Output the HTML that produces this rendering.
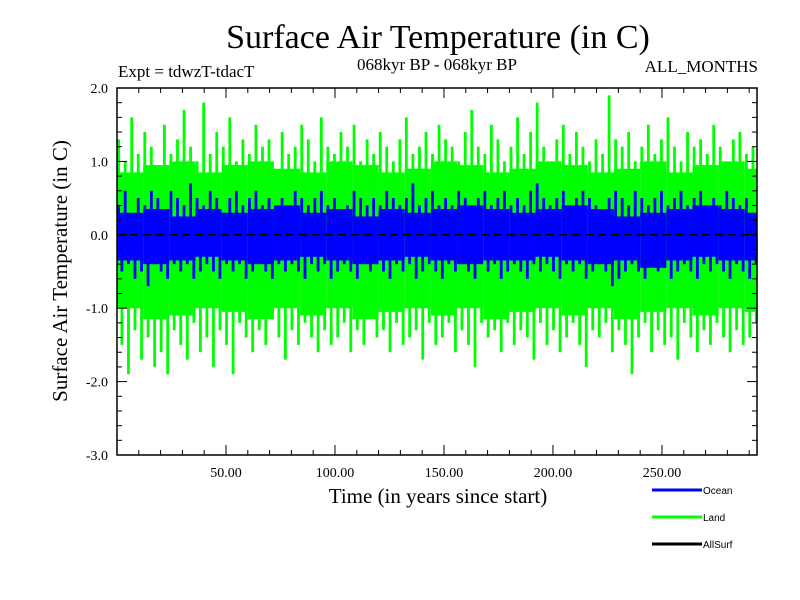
<!DOCTYPE html>
<html><head><meta charset="utf-8"><style>
body{margin:0;background:#fff}
svg{display:block}
.s{font-family:"Liberation Serif",serif}
.a{font-family:"Liberation Sans",sans-serif}
</style></head><body>
<svg id="c" width="800" height="600" xmlns="http://www.w3.org/2000/svg">
<text class="s" x="438" y="48" font-size="34" text-anchor="middle">Surface Air Temperature (in C)</text>
<text class="s" x="118" y="77" font-size="17">Expt = tdwzT-tdacT</text>
<text class="s" x="437" y="70" font-size="17" text-anchor="middle">068kyr BP - 068kyr BP</text>
<text class="s" x="758" y="72" font-size="17" text-anchor="end">ALL_MONTHS</text>
<text class="s" x="438" y="503" font-size="21" text-anchor="middle">Time (in years since start)</text>
<text class="s" transform="translate(67,271) rotate(-90)" font-size="21" text-anchor="middle">Surface Air Temperature (in C)</text>
<g id="plot"></g>
<g id="axes"></g>
<g>
<line x1="652" y1="490" x2="702" y2="490" stroke="#0000ff" stroke-width="3"/>
<text class="a" x="703" y="494" font-size="10">Ocean</text>
<line x1="652" y1="517" x2="702" y2="517" stroke="#00ff00" stroke-width="3"/>
<text class="a" x="703" y="521" font-size="10">Land</text>
<line x1="652" y1="544" x2="702" y2="544" stroke="#000" stroke-width="3"/>
<text class="a" x="703" y="548" font-size="10">AllSurf</text>
</g>
</svg>
<script>
const yearStep = 3;
const coreStep = 12;
const landMax = [1.3,1.0,1.6,1.1,1.4,1.2,0.9,1.5,1.1,1.3,1.7,1.2,1.0,1.8,1.1,1.4,1.2,1.6,1.0,1.3,1.1,1.5,1.2,1.3,0.9,1.4,1.1,1.2,1.5,1.3,1.0,1.6,1.2,1.1,1.4,1.2,1.5,1.0,1.3,1.1,1.4,1.2,1.0,1.3,1.6,1.1,1.2,1.4,1.1,1.5,1.3,1.2,1.0,1.4,1.7,1.2,1.1,1.5,1.3,1.0,1.2,1.6,1.1,1.4,1.8,1.2,1.0,1.3,1.5,1.1,1.4,1.2,1.0,1.3,1.1,1.9,1.3,1.2,1.4,1.0,1.2,1.5,1.1,1.3,1.6,1.2,1.0,1.4,1.2,1.3,1.1,1.5,1.2,1.0,1.3,1.4,1.1,1.2];
const landMin = [-1.5,-1.9,-1.3,-1.7,-1.4,-1.8,-1.6,-1.9,-1.3,-1.5,-1.7,-1.2,-1.6,-1.4,-1.8,-1.3,-1.5,-1.9,-1.2,-1.4,-1.6,-1.3,-1.5,-1.1,-1.4,-1.7,-1.3,-1.5,-1.2,-1.4,-1.6,-1.3,-1.5,-1.4,-1.2,-1.6,-1.3,-1.5,-1.1,-1.4,-1.3,-1.6,-1.2,-1.5,-1.4,-1.3,-1.7,-1.2,-1.5,-1.4,-1.2,-1.6,-1.3,-1.5,-1.8,-1.2,-1.4,-1.3,-1.6,-1.2,-1.5,-1.3,-1.4,-1.7,-1.2,-1.5,-1.3,-1.6,-1.4,-1.2,-1.5,-1.8,-1.3,-1.4,-1.2,-1.6,-1.3,-1.5,-1.9,-1.4,-1.2,-1.6,-1.3,-1.5,-1.4,-1.7,-1.2,-1.4,-1.6,-1.3,-1.5,-1.2,-1.4,-1.6,-1.3,-1.5,-1.4,-1.2];
const oceanMax = [0.4,0.6,0.3,0.5,0.4,0.6,0.5,0.3,0.6,0.5,0.4,0.7,0.5,0.4,0.6,0.5,0.3,0.5,0.6,0.4,0.5,0.6,0.4,0.5,0.3,0.5,0.4,0.6,0.5,0.4,0.5,0.6,0.4,0.5,0.3,0.4,0.6,0.5,0.4,0.5,0.4,0.6,0.5,0.4,0.5,0.7,0.4,0.5,0.6,0.4,0.5,0.4,0.6,0.5,0.4,0.5,0.6,0.4,0.5,0.6,0.4,0.5,0.4,0.6,0.7,0.5,0.4,0.5,0.6,0.4,0.5,0.6,0.5,0.4,0.3,0.5,0.6,0.5,0.4,0.6,0.5,0.4,0.5,0.6,0.4,0.5,0.6,0.4,0.5,0.6,0.4,0.5,0.4,0.6,0.5,0.4,0.5,0.3];
const oceanMin = [-0.5,-0.4,-0.6,-0.5,-0.7,-0.4,-0.5,-0.6,-0.4,-0.5,-0.4,-0.6,-0.5,-0.4,-0.5,-0.6,-0.4,-0.5,-0.4,-0.6,-0.5,-0.4,-0.5,-0.6,-0.4,-0.5,-0.4,-0.5,-0.6,-0.4,-0.5,-0.4,-0.6,-0.5,-0.4,-0.5,-0.6,-0.4,-0.5,-0.4,-0.5,-0.6,-0.4,-0.5,-0.4,-0.6,-0.5,-0.4,-0.5,-0.6,-0.4,-0.5,-0.4,-0.5,-0.6,-0.4,-0.5,-0.4,-0.6,-0.5,-0.4,-0.5,-0.6,-0.4,-0.5,-0.4,-0.5,-0.6,-0.4,-0.5,-0.4,-0.6,-0.5,-0.4,-0.5,-0.7,-0.6,-0.5,-0.4,-0.5,-0.6,-0.4,-0.5,-0.4,-0.6,-0.5,-0.4,-0.5,-0.6,-0.4,-0.5,-0.4,-0.5,-0.6,-0.4,-0.5,-0.6,-0.4];
const landCoreTop = [0.85,0.95,1.0,0.85,0.95,1.0,0.9,0.85,1.0,0.95,0.85,0.9,1.0,0.95,0.85,0.9,1.0,0.95,0.85,0.9,1.0,0.85,0.95,1.0,0.9];
const landCoreBot = [-1.0,-1.15,-1.1,-1.0,-1.05,-1.15,-1.0,-1.1,-1.0,-1.15,-1.05,-1.0,-1.1,-1.0,-1.15,-1.05,-1.0,-1.1,-1.0,-1.15,-1.05,-1.0,-1.1,-1.0,-1.05];
const oceanCoreTop = [0.3,0.35,0.25,0.35,0.3,0.35,0.4,0.3,0.35,0.25,0.35,0.3,0.35,0.4,0.35,0.3,0.35,0.4,0.35,0.25,0.3,0.35,0.4,0.35,0.3];
const oceanCoreBot = [-0.35,-0.4,-0.35,-0.3,-0.35,-0.4,-0.35,-0.3,-0.35,-0.4,-0.35,-0.3,-0.35,-0.4,-0.35,-0.35,-0.3,-0.35,-0.4,-0.35,-0.45,-0.35,-0.3,-0.35,-0.35];
const yTicks = [2.0,1.0,0.0,-1.0,-2.0,-3.0];
const xTicks = [50,100,150,200,250];

const X0=117,X1=757,Y0=88,Y1=455,YMAX=2,YMIN=-3,XMIN=0,XMAX=293.6;
const sx=v=>X0+(v-XMIN)/(XMAX-XMIN)*(X1-X0);
const sy=v=>Y0+(YMAX-v)/(YMAX-YMIN)*(Y1-Y0);
const NS="http://www.w3.org/2000/svg";
const plot=document.getElementById('plot'),axes=document.getElementById('axes');
function mk(tag,attrs,parent){const e=document.createElementNS(NS,tag);for(const k in attrs)e.setAttribute(k,attrs[k]);parent.appendChild(e);return e;}

function drawSeries(maxA,minA,topA,botA,color,name){
  const g=mk('g',{},plot);
  
  
  const m=Math.min(topA.length,botA.length);
  for(let i=0;i<m;i++){
    const xa=sx(i*coreStep), xb=Math.min(sx((i+1)*coreStep),X1);
    if(xb<=xa) continue;
    const r=mk('rect',{x:xa,y:sy(topA[i]),width:xb-xa,height:sy(botA[i])-sy(topA[i]),fill:color},g);
    
    
  }
  const n=Math.min(maxA.length,minA.length);
  for(let i=0;i<n;i++){
    const xu=sx(i*yearStep+0.75), xd=sx(i*yearStep+2.25);
    if(xu<=X1){
      const l=mk('line',{x1:xu,y1:sy(maxA[i]),x2:xu,y2:sy(0),stroke:color,'stroke-width':2.8},g);
      
      
    }
    if(xd<=X1){
      const l=mk('line',{x1:xd,y1:sy(minA[i]),x2:xd,y2:sy(0),stroke:color,'stroke-width':2.8},g);
      
      
    }
  }
}
drawSeries(landMax,landMin,landCoreTop,landCoreBot,'#00ff00','land-series');
drawSeries(oceanMax,oceanMin,oceanCoreTop,oceanCoreBot,'#0000ff','ocean-series');
const zl=mk('line',{x1:X0,y1:sy(0),x2:X1,y2:sy(0),stroke:'#000','stroke-width':1.5,'stroke-dasharray':'8,5'},plot);



const fr=mk('rect',{x:X0,y:Y0,width:X1-X0,height:Y1-Y0,fill:'none',stroke:'#000','stroke-width':1.5},axes);


for(let v=-3;v<=2.001;v+=0.2){
  const y=sy(v), major=Math.abs(v-Math.round(v))<0.01, L=major?10:5;
  mk('line',{x1:X0,y1:y,x2:X0+L,y2:y,stroke:'#000'},axes);
  mk('line',{x1:X1,y1:y,x2:X1-L,y2:y,stroke:'#000'},axes);
}
yTicks.forEach(v=>{
  const t=mk('text',{x:X0-9,y:sy(v)+5,'font-size':14,'text-anchor':'end',class:'s'},axes);
  t.textContent=v.toFixed(1);
  
  
});
for(let v=10;v<XMAX;v+=10){
  const x=sx(v), L=(v%50===0)?10:5;
  mk('line',{x1:x,y1:Y1,x2:x,y2:Y1-L,stroke:'#000'},axes);
  mk('line',{x1:x,y1:Y0,x2:x,y2:Y0+L,stroke:'#000'},axes);
}
xTicks.forEach(v=>{
  const t=mk('text',{x:sx(v),y:Y1+22,'font-size':14,'text-anchor':'middle',class:'s'},axes);
  t.textContent=v.toFixed(2);
  
  
});
</script>
</body></html>
